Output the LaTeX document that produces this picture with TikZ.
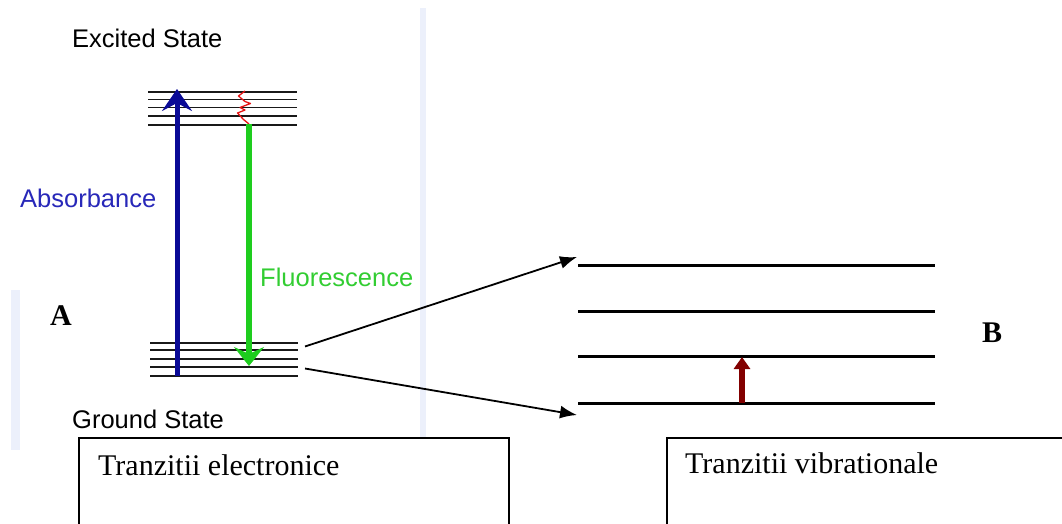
\documentclass[tikz,border=0pt]{standalone}
\usepackage{fontspec}
\setmainfont{Liberation Serif}
\newfontfamily\arialfont{Liberation Sans}
\usetikzlibrary{arrows.meta}

\definecolor{barblue}{RGB}{236,240,251}
\definecolor{absblue}{RGB}{10,10,150}
\definecolor{abstext}{RGB}{40,40,185}
\definecolor{fluogreen}{RGB}{30,205,30}
\definecolor{fluotext}{RGB}{50,205,50}
\definecolor{wavered}{RGB}{230,20,20}
\definecolor{vibred}{RGB}{130,0,0}
\definecolor{levelgray}{RGB}{25,25,25}

\tikzset{
  sanslabel/.style={anchor=base west, inner sep=0pt, font=\arialfont\fontsize{25.5}{30}\selectfont},
  seriflabel/.style={anchor=base west, inner sep=0pt, font=\fontsize{30}{36}\selectfont},
  bigletter/.style={anchor=base west, inner sep=0pt, font=\bfseries\fontsize{30}{36}\selectfont},
  sublevel/.style={draw=levelgray, line width=1.8pt},
  viblevel/.style={draw=black, line width=3pt},
  capbox/.style={draw=black, line width=2pt, rectangle, anchor=north west, inner sep=0pt},
  zoomarrow/.style={draw=black, line width=1.8pt, -{Latex[length=17pt,width=13pt]}},
}

\begin{document}
\begin{tikzpicture}[x=1pt, y=-1pt]
  \clip (0,0) rectangle (1062,524);
  \fill[white] (0,0) rectangle (1062,524);

  % pale separator bars
  \fill[barblue] (420,8) rectangle (426,437);
  \fill[barblue] (11,290) rectangle (20,450);

  % excited-state sublevels
  \foreach \yy in {92,99.5,107.5,116,125}
    \draw[sublevel] (148,\yy) -- (297,\yy);
  % ground-state sublevels
  \foreach \yy in {343,350,359,367,376}
    \draw[sublevel] (150,\yy) -- (298,\yy);

  % end points of the electronic transitions
  \coordinate (absStart) at (177,376);
  \coordinate (absEnd) at (177,89);
  \coordinate (relaxTop) at (245,91);
  \coordinate (fluoStart) at (249,124);
  \coordinate (fluoEnd) at (249,366);

  % absorbance
  \draw[absblue, line width=5pt, -{Stealth[length=22pt,width=30pt,inset=8pt]}] (absStart) -- (absEnd);
  % vibrational relaxation (wavy)
  \draw[wavered, line width=1.3pt, line join=round]
    (relaxTop) -- (238.5,96) -- (245,101.5) -- (250.5,103.5) -- (240,107.5)
    -- (245,110) -- (237.5,113) -- (243.5,119.5) -- (fluoStart);
  % fluorescence
  \draw[fluogreen, line width=6pt, -{Stealth[length=19pt,width=30pt,inset=7pt]}] (fluoStart) -- (fluoEnd);

  % state and transition labels
  \node[sanslabel] (excited) at (72,48) {Excited State};
  \node[sanslabel] (ground) at (72,428) {Ground State};
  \node[sanslabel, text=abstext] (absorb) at (20,207) {Absorbance};
  \node[sanslabel, text=fluotext] (fluor) at (260,286) {Fluorescence};

  % panel letters
  \node[bigletter] (panelA) at (50,325) {A};
  \node[bigletter] (panelB) at (982,342) {B};

  % enlarged vibrational levels
  \foreach \yy/\nm in {265/v3,311/v2,356/v1,403/v0}{
    \draw[viblevel] (578,\yy) -- (935,\yy);
    \coordinate (\nm) at (742,\yy);
  }
  \coordinate (zoomTopEnd) at (577,257);
  \coordinate (zoomBotEnd) at (577,415);
  \coordinate (gTop) at (305,346.5);
  \coordinate (gBot) at (305,368.5);

  % vibrational transition
  \draw[vibred, line width=6pt, -{Triangle[length=12pt,width=16pt]}] (v0) -- ([yshift=-1pt]v1);

  % zoom-in connectors
  \draw[zoomarrow] (gTop) -- (zoomTopEnd);
  \draw[zoomarrow] (gBot) -- (zoomBotEnd);

  % caption boxes (open at the lower edge of the page)
  \node[capbox, minimum width=430pt, minimum height=120pt] (boxE) at (78,437) {};
  \node[capbox, minimum width=420pt, minimum height=120pt] (boxV) at (666,437) {};
  \node[seriflabel] (capE) at (98,475) {Tranzitii electronice};
  \node[seriflabel] (capV) at (685,473) {Tranzitii vibrationale};
\end{tikzpicture}
\end{document}
